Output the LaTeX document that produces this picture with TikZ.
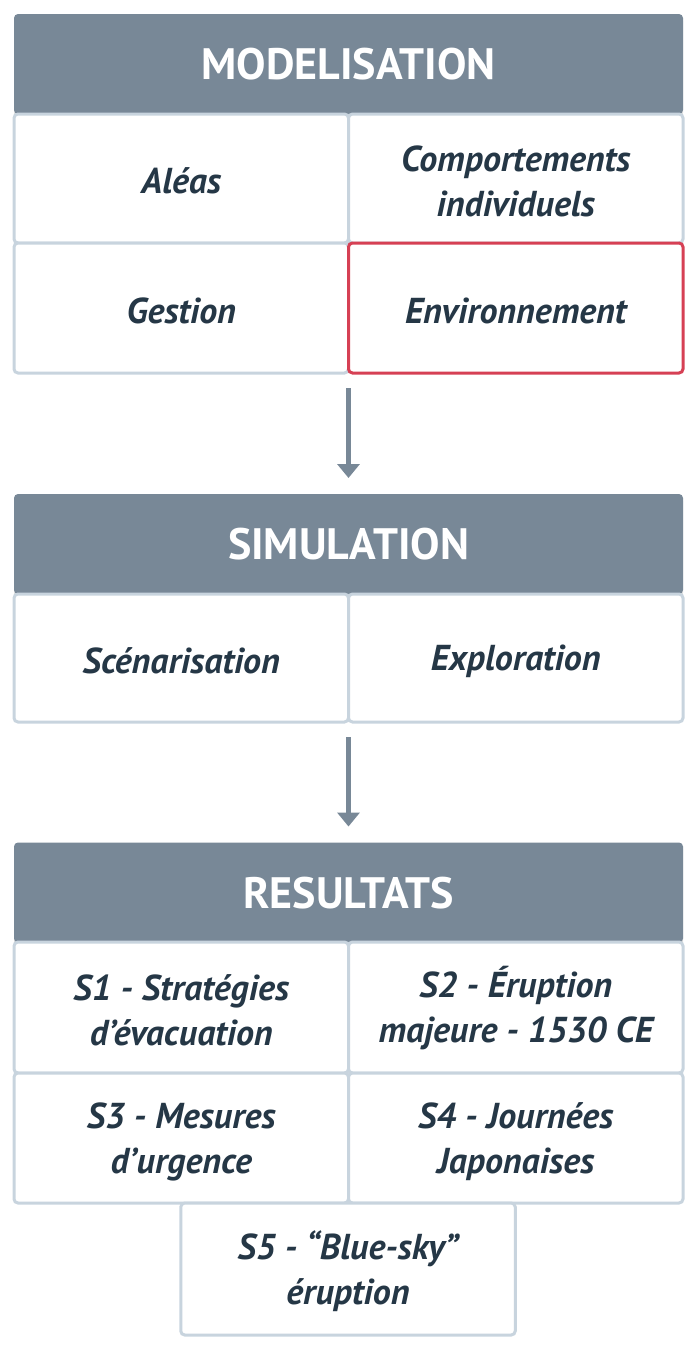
\documentclass[tikz,border=0pt]{standalone}
\usepackage{fontspec}
\setmainfont{PT Sans}
\usetikzlibrary{arrows.meta,shadows}
\definecolor{hdr}{RGB}{120,136,151}
\definecolor{txt}{RGB}{37,55,70}
\definecolor{brd}{RGB}{200,212,222}
\definecolor{redb}{RGB}{214,64,84}
\newcommand{\cs}{\rule[-3pt]{0pt}{36pt}}
\newcommand{\hs}{\rule[-3pt]{0pt}{37pt}}
\tikzset{
  hdrbox/.style={fill=hdr, draw=none, rounded corners=4pt, minimum width=669pt, minimum height=100pt,
    inner sep=0pt, outer sep=0pt, text=white, font=\bfseries\fontsize{44}{48}\selectfont,
    drop shadow={shadow xshift=0pt, shadow yshift=-3pt, opacity=0.12, fill=black}},
  cell/.style={fill=white, draw=brd, line width=3pt, rounded corners=4pt, minimum width=334.5pt,
    inner sep=0pt, outer sep=0pt, text=txt, align=center,
    font=\bfseries\itshape\fontsize{36}{45}\selectfont},
  hot/.style={draw=redb},
  arr/.style={draw=hdr, line width=5pt, -{Triangle[width=22pt,length=14pt]}, shorten <=15pt, shorten >=16pt}
}
\begin{document}
\begin{tikzpicture}[x=1pt,y=-1pt]
\useasboundingbox (0,0) rectangle (697,1350);
% MODELISATION
\node[hdrbox] (modh) at (348.5,64) {\hs MODELISATION};
\node[cell, minimum height=129pt] (aleas) at (181.25,178.5) {\cs Aléas};
\node[cell, minimum height=129pt] (comp) at (515.75,178.5) {\cs Comportements\\\cs individuels};
\node[cell, minimum height=130pt] (gest) at (181.25,308) {\cs Gestion};
\node[cell, hot, minimum height=130pt] (env) at (515.75,308) {\cs Environnement};
% SIMULATION
\node[hdrbox] (simh) at (348.5,544) {\hs SIMULATION};
\node[cell, minimum height=128pt] (scen) at (181.25,658) {\cs Scénarisation};
\node[cell, minimum height=128pt] (expl) at (515.75,658) {\cs Exploration};
% RESULTATS
\node[hdrbox] (resh) at (348.5,892.5) {\hs RESULTATS};
\node[cell, minimum height=131pt] (s1) at (181.25,1007.5) {\cs S1 - Stratégies\\\cs d’évacuation};
\node[cell, minimum height=131pt] (s2) at (515.75,1007.5) {\cs S2 - Éruption\\\cs majeure - 1530 CE};
\node[cell, minimum height=130pt] (s3) at (181.25,1138) {\cs S3 - Mesures\\\cs d’urgence};
\node[cell, minimum height=130pt] (s4) at (515.75,1138) {\cs S4 - Journées\\\cs Japonaises};
\node[cell, minimum height=132pt] (s5) at (348,1269) {\cs S5 - “Blue-sky”\\\cs éruption};
% arrows
\draw[arr] (gest.south east) -- (simh.north);
\draw[arr] (scen.south east) -- (resh.north);
\end{tikzpicture}
\end{document}
